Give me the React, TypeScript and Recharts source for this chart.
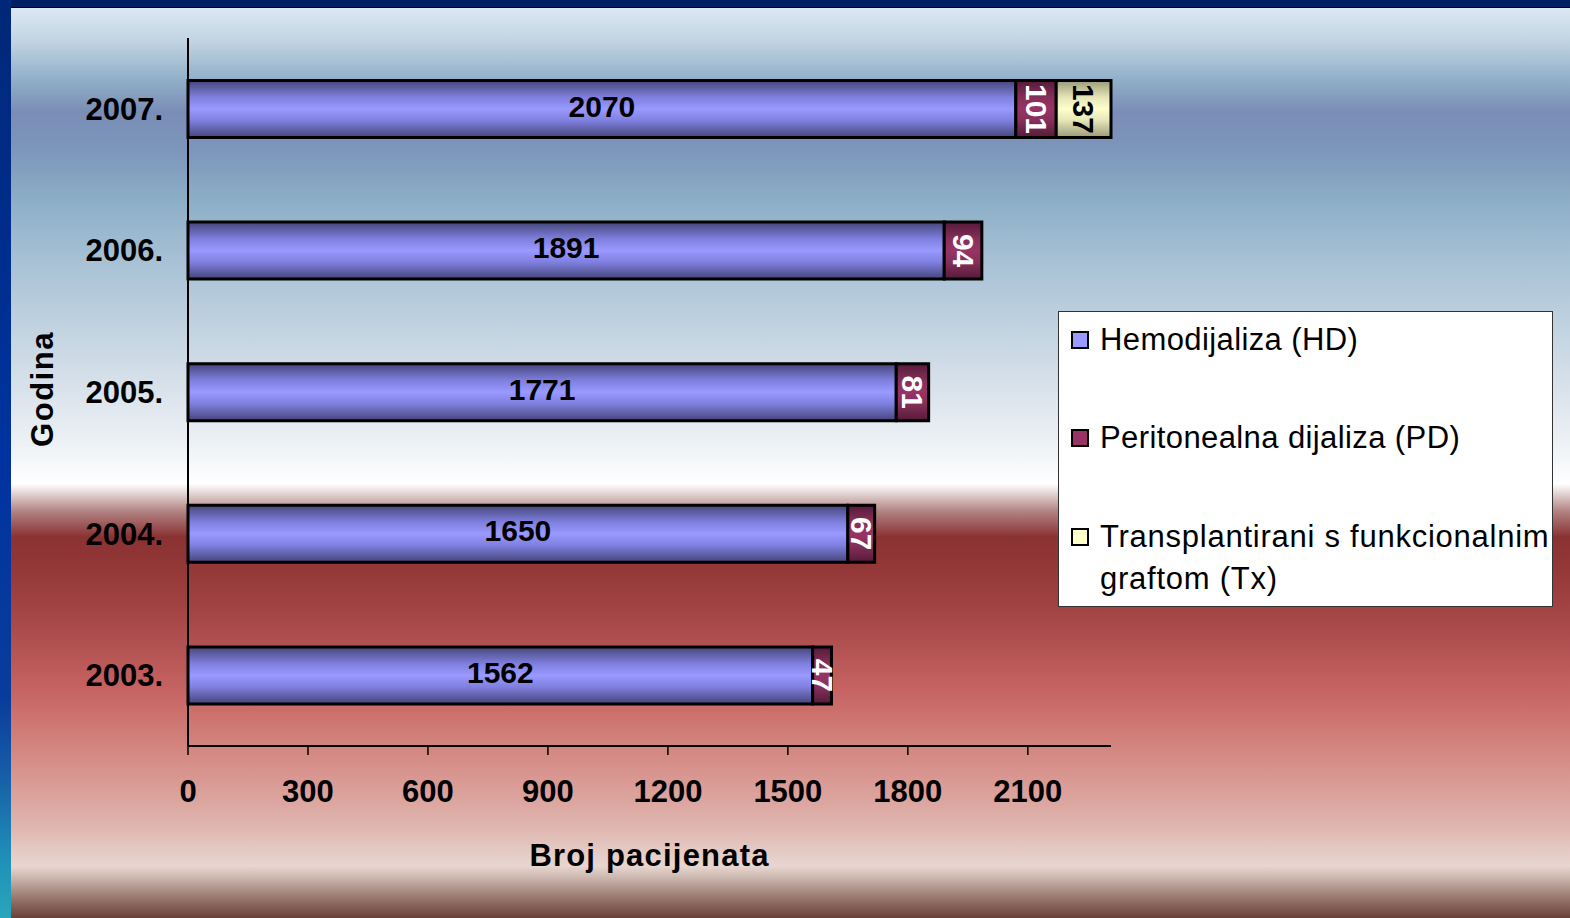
import React from 'react';
import { BarChart, Bar, XAxis, YAxis, Legend, LabelList } from 'recharts';

const years = ['2007.', '2006.', '2005.', '2004.', '2003.'];
const hdValues = [2070, 1891, 1771, 1650, 1562];
const pdValues = [101, 94, 81, 67, 47];
const txValues: (number | null)[] = [137, null, null, null, null];
const xTicks = [0, 300, 600, 900, 1200, 1500, 1800, 2100];

const seriesNames = ['Hemodijaliza (HD)', 'Peritonealna dijaliza (PD)', 'Transplantirani s funkcionalnim graftom (Tx)'];
const swatchColors = ['#9999ff', '#993366', '#ffffcc'];

const data = years.map((y, i) => ({ year: y, hd: hdValues[i], pd: pdValues[i], tx: txValues[i] }));

const FONT = '"Liberation Sans", Arial, Helvetica, sans-serif';

const rotatedLabel = (color: string) => (props: any) => {
  const { x, y, width, height, value } = props;
  if (value === null || value === undefined || value === 0) return null;
  const cx = Number(x) + Number(width) / 2;
  const cy = Number(y) + Number(height) / 2;
  return (
    <text
      x={cx}
      y={cy}
      transform={`rotate(90, ${cx}, ${cy})`}
      textAnchor="middle"
      dominantBaseline="central"
      fill={color}
      fontSize={30}
      fontWeight="bold"
      fontFamily={FONT}
    >
      {value}
    </text>
  );
};

const renderLegend = () => {
  const rows = [
    { top: 28, lines: [seriesNames[0]], color: swatchColors[0], ls: 0.4 },
    { top: 126, lines: [seriesNames[1]], color: swatchColors[1], ls: 0.4 },
    { top: 225, lines: ['Transplantirani s funkcionalnim', 'graftom (Tx)'], color: swatchColors[2], ls: 0.75 },
  ];
  return (
    <div
      style={{
        width: 495,
        height: 296,
        background: '#ffffff',
        border: '1px solid #333',
        boxSizing: 'border-box',
        position: 'relative',
        fontFamily: FONT,
        fontSize: 31,
        color: '#000',
      }}
    >
      {rows.map((r, i) => (
        <div key={i} style={{ position: 'absolute', left: 0, top: r.top - 21, width: 495 }}>
          <div
            style={{
              position: 'absolute',
              left: 12,
              top: 12,
              width: 14,
              height: 14,
              background: r.color,
              border: '2px solid #000',
            }}
          />
          {r.lines.map((ln, j) => (
            <div
              key={j}
              style={{
                position: 'absolute',
                left: 41,
                top: j * 42,
                lineHeight: '42px',
                whiteSpace: 'nowrap',
                letterSpacing: `${r.ls}px`,
              }}
            >
              {ln}
            </div>
          ))}
        </div>
      ))}
    </div>
  );
};

const bgGradient =
  'linear-gradient(to bottom, #dbe8f2 8px, #c2d5e4 40px, #90afc8 80px, #7a8db6 112px, #7d96bb 150px, #8eb0c8 205px, #a9c2d6 265px, #c0d2e0 325px, #dfe6ee 405px, #eef2f6 445px, #ffffff 484px, #dcc8c8 496px, #b08080 512px, #8a3232 537px, #953838 572px, #a84848 622px, #c36060 682px, #cc706c 712px, #d8948e 772px, #dfb2ac 822px, #e8d6d0 866px, #d0bcb4 876px, #9a7a70 897px, #6a4038 918px)';

const leftStrip =
  'linear-gradient(to bottom, #002878 0px, #0033a0 460px, #0a3c9c 700px, #1860a8 780px, #2090b8 860px, #28a6bc 918px)';

export default function App() {
  return (
    <div
      style={{
        position: 'absolute',
        left: 0,
        top: 0,
        width: 1570,
        height: 918,
        overflow: 'hidden',
        background: bgGradient,
        fontFamily: FONT,
      }}
    >
      <div style={{ position: 'absolute', left: 0, top: 0, width: 1570, height: 7, background: '#001e62' }} />
      <div style={{ position: 'absolute', left: 0, top: 7, width: 1570, height: 1, background: '#000' }} />
      <div style={{ position: 'absolute', left: 0, top: 0, width: 11, height: 918, background: leftStrip }} />
      <div style={{ position: 'absolute', left: 0, top: 0 }}>
        <BarChart
          width={1570}
          height={918}
          data={data}
          layout="vertical"
          margin={{ top: 38, right: 459, bottom: 72, left: 0 }}
          barCategoryGap="30%"
        >
          <defs>
            <linearGradient id="gradHD" x1="0" y1="0" x2="0" y2="1">
              <stop offset="0%" stopColor="#45457a" />
              <stop offset="30%" stopColor="#8080e0" />
              <stop offset="50%" stopColor="#9999ff" />
              <stop offset="70%" stopColor="#8080e0" />
              <stop offset="100%" stopColor="#45457a" />
            </linearGradient>
            <linearGradient id="gradPD" x1="0" y1="0" x2="0" y2="1">
              <stop offset="0%" stopColor="#561a3a" />
              <stop offset="30%" stopColor="#86305a" />
              <stop offset="50%" stopColor="#993366" />
              <stop offset="70%" stopColor="#86305a" />
              <stop offset="100%" stopColor="#561a3a" />
            </linearGradient>
            <linearGradient id="gradTX" x1="0" y1="0" x2="0" y2="1">
              <stop offset="0%" stopColor="#9a9a78" />
              <stop offset="30%" stopColor="#e6e6b8" />
              <stop offset="50%" stopColor="#ffffcc" />
              <stop offset="70%" stopColor="#e6e6b8" />
              <stop offset="100%" stopColor="#9a9a78" />
            </linearGradient>
          </defs>
          <XAxis
            type="number"
            domain={[0, 'dataMax']}
            ticks={xTicks}
            interval={0}
            axisLine={{ stroke: '#000', strokeWidth: 2 }}
            tickLine={{ stroke: '#000', strokeWidth: 1.5 }}
            tickSize={9}
            tickMargin={25}
            height={100}
            tick={{ fill: '#000', fontSize: 31, fontWeight: 'bold', fontFamily: FONT }}
            label={{
              value: 'Broj pacijenata',
              position: 'bottom',
              offset: -2,
              fill: '#000',
              fontSize: 31,
              fontWeight: 'bold',
              fontFamily: FONT,
              letterSpacing: 1.2,
            }}
          />
          <YAxis
            type="category"
            dataKey="year"
            width={188}
            axisLine={{ stroke: '#000', strokeWidth: 2 }}
            tickLine={false}
            tickSize={0}
            tickMargin={25}
            tick={{ fill: '#000', fontSize: 31, fontWeight: 'bold', fontFamily: FONT }}
            label={{
              content: (p: any) => {
                const vb = p.viewBox || {};
                const cy = Number(vb.y) + Number(vb.height) / 2 - 3;
                return (
                  <text
                    x={42}
                    y={cy}
                    transform={`rotate(-90, 42, ${cy})`}
                    textAnchor="middle"
                    dominantBaseline="central"
                    fill="#000"
                    fontSize={31}
                    fontWeight="bold"
                    fontFamily={FONT}
                    letterSpacing={1.5}
                  >
                    Godina
                  </text>
                );
              },
            }}
          />
          <Legend
            layout="vertical"
            align="center"
            verticalAlign="middle"
            content={renderLegend}
            wrapperStyle={{ left: 1058, top: 311, width: 495, height: 296 }}
          />
          <Bar dataKey="hd" name={seriesNames[0]} stackId="a" fill="url(#gradHD)" stroke="#000" strokeWidth={3} isAnimationActive={false}>
            <LabelList dataKey="hd" position="center" fill="#000" fontSize={30} fontWeight="bold" fontFamily={FONT} dy={-3} />
          </Bar>
          <Bar dataKey="pd" name={seriesNames[1]} stackId="a" fill="url(#gradPD)" stroke="#000" strokeWidth={3} isAnimationActive={false}>
            <LabelList dataKey="pd" content={rotatedLabel('#ffffff')} />
          </Bar>
          <Bar dataKey="tx" name={seriesNames[2]} stackId="a" fill="url(#gradTX)" stroke="#000" strokeWidth={3} isAnimationActive={false}>
            <LabelList dataKey="tx" content={rotatedLabel('#000000')} />
          </Bar>
        </BarChart>
      </div>
    </div>
  );
}
